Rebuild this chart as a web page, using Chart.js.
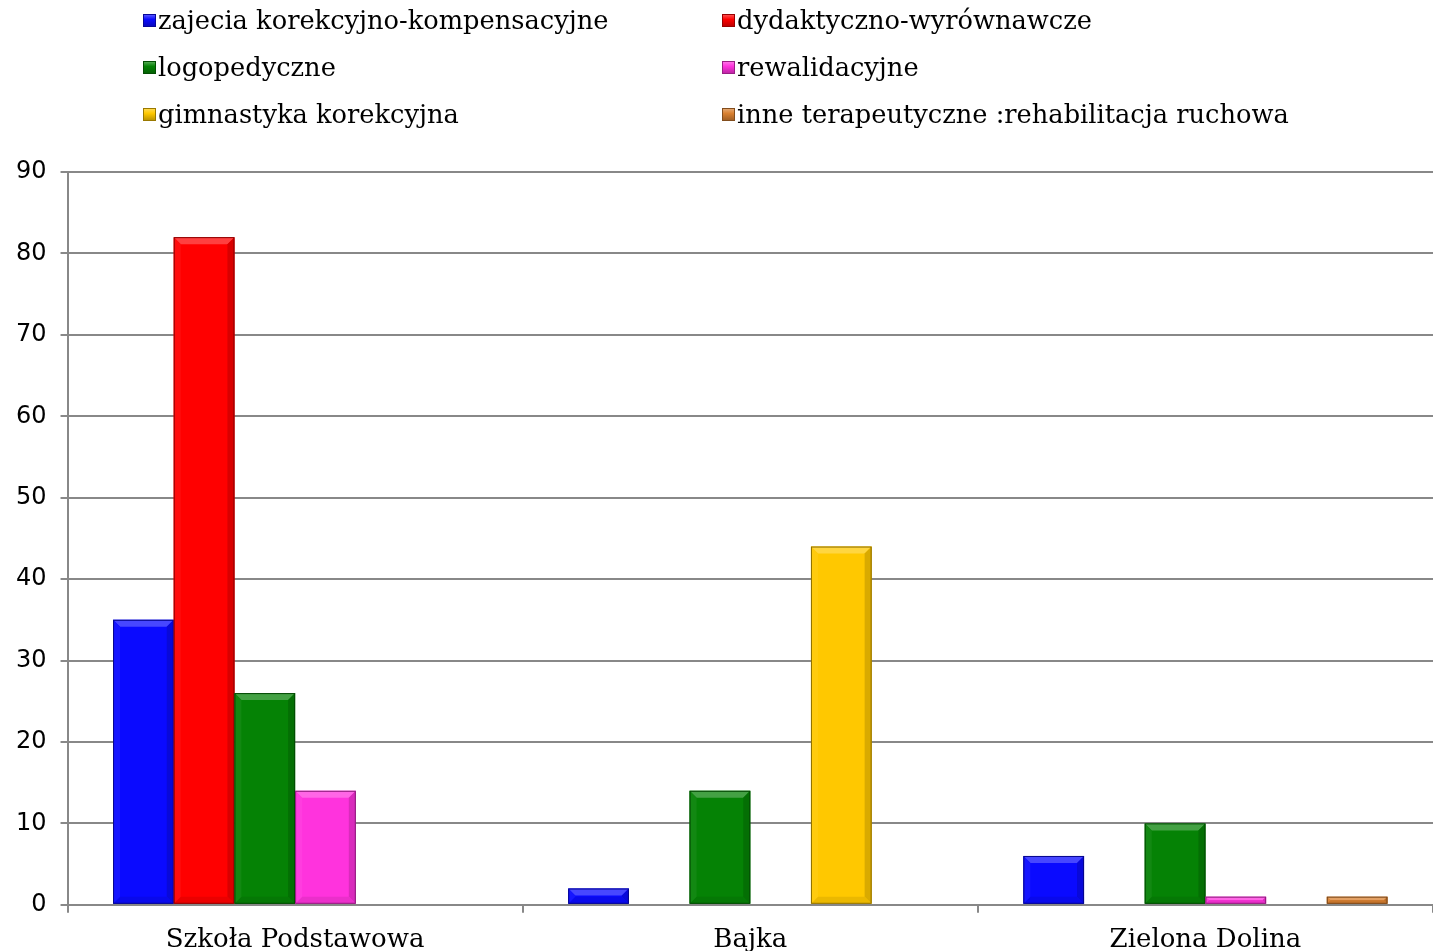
<!DOCTYPE html>
<html>
<head>
<meta charset="utf-8">
<script src="https://cdn.jsdelivr.net/npm/chart.js@4"></script>
<style>
    body { margin: 0; background: #fff; overflow: hidden; }
    #wrap { position: relative; width: 1433px; height: 951px; overflow: hidden; }
    #legend {
        position: absolute; left: 143px; top: 3px;
        display: grid; grid-template-columns: 579px 620px; row-gap: 13px;
        font-family: "DejaVu Serif", serif; font-size: 25.7px; color: #000;
    }
    .item { display: flex; align-items: center; height: 34px; white-space: nowrap; }
    .box { width: 13px; height: 13px; margin-right: 2px; box-sizing: border-box; }
</style>
</head>
<body>
<div id="wrap">
    <canvas id="chart" width="1433" height="968"></canvas>
    <div id="legend"></div>
</div>
<script>
const categories = ["Szkoła Podstawowa", "Bajka", "Zielona Dolina"];
const seriesNames = [
    "zajecia korekcyjno-kompensacyjne",
    "dydaktyczno-wyrównawcze",
    "logopedyczne",
    "rewalidacyjne",
    "gimnastyka korekcyjna",
    "inne terapeutyczne :rehabilitacja ruchowa"
];
const korekcyjne = [35, 2, 6];
const dydaktyczne = [82, 0, 0];
const logopedyczne = [26, 14, 10];
const rewalidacyjne = [14, 0, 1];
const gimnastyka = [0, 44, 0];
const inne = [0, 0, 1];
const yTicks = [0, 10, 20, 30, 40, 50, 60, 70, 80, 90];

const colors = ["#0a0aff", "#ff0000", "#058205", "#ff33dd", "#ffc800", "#d98030"];
const values = [korekcyjne, dydaktyczne, logopedyczne, rewalidacyjne, gimnastyka, inne];

function shade(hex, amt) {
    let n = parseInt(hex.slice(1), 16);
    let r = (n >> 16) & 255, g = (n >> 8) & 255, b = n & 255;
    const f = c => Math.max(0, Math.min(255, Math.round(amt > 0 ? c + (255 - c) * amt : c * (1 + amt))));
    return `rgb(${f(r)},${f(g)},${f(b)})`;
}

// soft bevel on each bar
const bevel = {
    id: 'bevel',
    afterDatasetsDraw(chart) {
        const ctx = chart.ctx;
        chart.data.datasets.forEach((ds, i) => {
            const meta = chart.getDatasetMeta(i);
            meta.data.forEach((bar, j) => {
                if (!ds.data[j]) return;
                const w = bar.width, left = bar.x - w / 2, right = bar.x + w / 2;
                const top = bar.y, bottom = bar.base;
                const h = bottom - top;
                const e = Math.min(7, h / 2);
                const c = colors[i];
                ctx.save();
                ctx.fillStyle = shade(c, 0.25);
                ctx.beginPath();
                ctx.moveTo(left, top); ctx.lineTo(right, top);
                ctx.lineTo(right - e, top + e); ctx.lineTo(left + e, top + e);
                ctx.closePath(); ctx.fill();
                ctx.fillStyle = shade(c, -0.15);
                ctx.beginPath();
                ctx.moveTo(right, top); ctx.lineTo(right, bottom);
                ctx.lineTo(right - e, bottom - e); ctx.lineTo(right - e, top + e);
                ctx.closePath(); ctx.fill();
                ctx.fillStyle = shade(c, -0.08);
                ctx.beginPath();
                ctx.moveTo(left, bottom); ctx.lineTo(right, bottom);
                ctx.lineTo(right - e, bottom - e); ctx.lineTo(left + e, bottom - e);
                ctx.closePath(); ctx.fill();
                ctx.fillStyle = shade(c, 0.05);
                ctx.beginPath();
                ctx.moveTo(left, top); ctx.lineTo(left, bottom);
                ctx.lineTo(left + e, bottom - e); ctx.lineTo(left + e, top + e);
                ctx.closePath(); ctx.fill();
                ctx.strokeStyle = shade(c, -0.45);
                ctx.lineWidth = 1;
                ctx.strokeRect(left + 0.5, top + 0.5, w - 1, h - 1);
                ctx.restore();
            });
        });
    }
};

const datasets = seriesNames.map((name, i) => ({
    label: name,
    data: values[i],
    backgroundColor: colors[i],
    barPercentage: 1,
    categoryPercentage: 0.8
}));

new Chart("chart", {
    type: "bar",
    data: { labels: categories, datasets: datasets },
    plugins: [bevel],
    options: {
        responsive: false,
        animation: false,
        layout: { padding: { top: 172, left: 2, right: 0, bottom: 0 } },
        plugins: {
            legend: { display: false },
            tooltip: { enabled: false }
        },
        scales: {
            x: {
                grid: { display: true, drawOnChartArea: false, drawTicks: true, tickLength: 8, color: '#888', lineWidth: 2 },
                border: { display: true, color: '#888', width: 2 },
                ticks: { color: '#000', padding: 12, font: { family: 'DejaVu Serif', size: 26 } }
            },
            y: {
                min: 0, max: 90,
                afterBuildTicks: axis => { axis.ticks = yTicks.map(v => ({ value: v })); },
                grid: { color: '#888', lineWidth: 2, tickLength: 7 },
                border: { display: true, color: '#888', width: 2 },
                ticks: { color: '#000', padding: 14, font: { family: 'DejaVu Sans', size: 24 } }
            }
        }
    }
});

// legend in two columns, built from the datasets
const legend = document.getElementById('legend');
seriesNames.forEach((name, i) => {
    const item = document.createElement('div');
    item.className = 'item';
    const box = document.createElement('span');
    box.className = 'box';
    box.style.background = `linear-gradient(${shade(colors[i], 0.3)}, ${colors[i]} 40%, ${shade(colors[i], -0.25)})`;
    box.style.border = `1px solid ${shade(colors[i], -0.4)}`;
    item.appendChild(box);
    item.appendChild(document.createTextNode(name));
    legend.appendChild(item);
});
</script>
</body>
</html>
